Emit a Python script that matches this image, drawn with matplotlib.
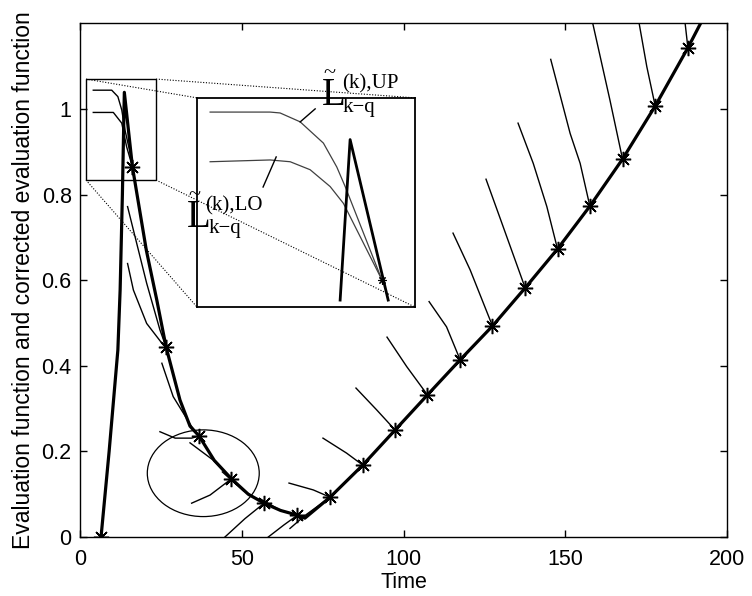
import matplotlib.pyplot as plt
from matplotlib.patches import Rectangle, Ellipse

plt.rcParams['font.family'] = ['Liberation Sans', 'DejaVu Sans']

# evaluation function (thick line)
t_eval = [6.5, 9.0, 11.7, 12.4, 13.1, 13.7, 16.2, 20.5, 23.7, 26.6, 30.9, 34.0, 36.8,
          41.5, 46.8, 52.0, 56.9, 62.0, 67.2, 69.5, 77.3, 87.4, 97.4, 107.4, 117.5,
          127.5, 137.6, 147.6, 157.6, 167.7, 177.8, 187.9, 192.5]
v_eval = [0.0, 0.2, 0.437, 0.577, 0.80, 1.039, 0.865, 0.67, 0.555, 0.444, 0.32, 0.259, 0.236,
          0.179, 0.136, 0.10, 0.079, 0.062, 0.051, 0.044, 0.093, 0.168, 0.25, 0.332, 0.414,
          0.493, 0.582, 0.673, 0.773, 0.883, 1.007, 1.143, 1.21]

# sampling instants (asterisks)
t_star = [6.5, 16.2, 26.6, 36.8, 46.8, 56.9, 67.2, 77.3, 87.4, 97.4, 107.4, 117.5, 127.5,
          137.6, 147.6, 157.6, 167.7, 177.8, 187.9]
v_star = [0.0, 0.865, 0.444, 0.236, 0.136, 0.079, 0.051, 0.093, 0.168, 0.25, 0.332, 0.414,
          0.493, 0.582, 0.673, 0.773, 0.883, 1.007, 1.143]

# corrected evaluation functions, upper bound
up_t = [[4.1, 9.8, 11.7, 12.9, 13.9, 15.5, 16.2],
        [14.7, 17.0, 20.6, 24.7, 26.6],
        [25.3, 28.8, 34.5, 36.8],
        [34.0, 41.1, 46.8],
        [44.0, 50.5, 56.9],
        [55.5, 61.8, 67.2],
        [64.6, 72.1, 77.3],
        [75.1, 82.4, 87.4],
        [85.3, 91.7, 97.4],
        [94.9, 101.0, 107.4],
        [107.9, 113.3, 117.5],
        [115.3, 120.6, 127.5],
        [125.5, 129.8, 137.6],
        [135.4, 140.1, 144.3, 147.6],
        [145.5, 151.5, 154.6, 157.6],
        [158.2, 163.8, 167.7],
        [172.6, 175.2, 177.8],
        [186.9, 187.9]]
up_v = [[1.044, 1.044, 1.029, 0.998, 0.951, 0.897, 0.865],
        [0.772, 0.702, 0.593, 0.484, 0.444],
        [0.406, 0.328, 0.258, 0.236],
        [0.22, 0.18, 0.136],
        [0.152, 0.108, 0.079],
        [0.09, 0.063, 0.051],
        [0.126, 0.11, 0.093],
        [0.231, 0.196, 0.168],
        [0.348, 0.297, 0.25],
        [0.467, 0.398, 0.332],
        [0.55, 0.491, 0.414],
        [0.71, 0.624, 0.493],
        [0.836, 0.746, 0.582],
        [0.967, 0.873, 0.772, 0.673],
        [1.116, 0.943, 0.873, 0.773],
        [1.21, 1.021, 0.883],
        [1.21, 1.099, 1.007],
        [1.21, 1.143]]

# corrected evaluation functions, lower bound
lo_t = [[4.1, 10.3, 12.9, 14.4, 16.2],
        [14.7, 16.5, 20.6, 25.7, 26.6],
        [24.7, 29.4, 34.5, 36.8],
        [34.5, 40.2, 46.8],
        [44.8, 51.0, 56.9],
        [58.2, 63.0, 67.2],
        [64.9, 69.5, 77.3]]
lo_v = [[0.992, 0.992, 0.967, 0.912, 0.865],
        [0.639, 0.577, 0.499, 0.449, 0.444],
        [0.246, 0.231, 0.231, 0.236],
        [0.079, 0.098, 0.136],
        [0.0, 0.043, 0.079],
        [0.0, 0.028, 0.051],
        [0.02, 0.05, 0.093]]

# magnified view
ins_up_t = [3.14, 9.10, 10.09, 12.08, 14.39, 15.72, 16.55, 20.19]
ins_up_v = [1.054, 1.054, 1.053, 1.043, 1.019, 0.992, 0.970, 0.865]
ins_lo_t = [3.14, 9.1, 11.09, 13.07, 15.06, 16.38, 20.19]
ins_lo_v = [0.998, 1.0, 0.998, 0.989, 0.970, 0.951, 0.865]
ins_eval_t = [16.05, 17.04, 20.82]
ins_eval_v = [0.842, 1.023, 0.842]

fig = plt.figure(figsize=(7.52, 5.96), dpi=100)
ax = fig.add_axes([0.1064, 0.099, 0.8604, 0.8617])

for t, v in zip(up_t, up_v):
    ax.plot(t, v, color='k', lw=1.0)
for t, v in zip(lo_t, lo_v):
    ax.plot(t, v, color='k', lw=1.0)
ax.plot(t_eval, v_eval, color='k', lw=2.3)
ax.plot(t_star, v_star, ls='none', marker=(8, 2, 0), ms=11, mew=1.1, color='k')

ax.set_xlim(0, 200)
ax.set_ylim(0, 1.2)
ax.set_xticks([0, 50, 100, 150, 200])
ax.set_yticks([0, 0.2, 0.4, 0.6, 0.8, 1])
ax.set_yticklabels(['0', '0.2', '0.4', '0.6', '0.8', '1'])
ax.tick_params(direction='in', top=True, right=True, length=5, width=1, labelsize=15.5)
ax.tick_params(axis='x', pad=9)
ax.tick_params(axis='y', pad=6)
for s in ax.spines.values():
    s.set_linewidth(1.0)
ax.set_xlabel('Time', fontsize=15.5, labelpad=1)
ax.set_ylabel('Evaluation function and corrected evaluation function', fontsize=16.5, labelpad=5)

# zoom box, dotted connectors and inset
ax.add_patch(Rectangle((1.85, 0.834), 21.65, 0.236, fill=False, lw=1.0, ec='k'))
dot = dict(color='k', lw=0.8, ls=(0, (1, 1.5)))
ax.plot([1.85, 36.2], [1.070, 1.026], **dot)
ax.plot([23.5, 103.6], [1.070, 1.026], **dot)
ax.plot([1.85, 36.2], [0.834, 0.537], **dot)
ax.plot([23.5, 103.6], [0.834, 0.537], **dot)

axin = ax.inset_axes([36.2, 0.537, 67.4, 0.489], transform=ax.transData)
axin.set_facecolor('none')
axin.plot(ins_up_t, ins_up_v, color='0.25', lw=0.9)
axin.plot(ins_lo_t, ins_lo_v, color='0.25', lw=0.9)
axin.plot(ins_eval_t, ins_eval_v, color='k', lw=2.0)
axin.plot([ins_up_t[-1]], [ins_up_v[-1]], marker=(8, 2, 0), ms=6, mew=0.8, color='k')
axin.set_xlim(1.85, 23.5)
axin.set_ylim(0.834, 1.070)
axin.set_xticks([])
axin.set_yticks([])
for s in axin.spines.values():
    s.set_linewidth(1.3)
axin.plot([13.57, 12.08], [1.0576, 1.0429], color='k', lw=1.0, clip_on=False)
axin.plot([8.40, 9.70], [0.9695, 1.0034], color='k', lw=1.0, clip_on=False)

ax.add_patch(Ellipse((38.1, 0.149), 34.6, 0.2026, fill=False, lw=0.9, ec='k'))

# labels of the two bounds
serif = ['Liberation Serif', 'DejaVu Serif']
ax.text(33.1, 0.724, 'L', family=serif, fontsize=28, ha='left', va='baseline')
ax.text(35.5, 0.797, '~', family=serif, fontsize=16, ha='center', va='center')
ax.text(38.6, 0.762, '(k),LO', family=serif, fontsize=15, ha='left', va='baseline')
ax.text(39.6, 0.71, 'k\u2212q', family=serif, fontsize=15, ha='left', va='baseline')

ax.text(74.8, 1.009, 'L', family=serif, fontsize=28, ha='left', va='baseline')
ax.text(77.2, 1.082, '~', family=serif, fontsize=16, ha='center', va='center')
ax.text(81.0, 1.049, '(k),UP', family=serif, fontsize=15, ha='left', va='baseline')
ax.text(81.0, 0.993, 'k\u2212q', family=serif, fontsize=15, ha='left', va='baseline')

plt.savefig('out.png', dpi=100)
